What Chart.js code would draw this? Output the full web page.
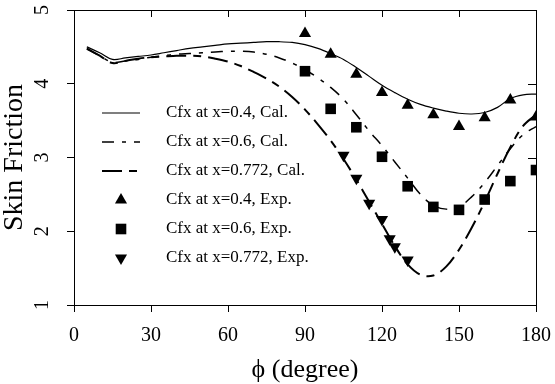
<!DOCTYPE html>
<html lang="en">
<head>
    <meta charset="UTF-8">
    <title>Skin Friction</title>
    <script src="https://cdn.jsdelivr.net/npm/chart.js"></script>
    <style>
        body { margin: 0; background: #fff; }
        #wrap { width: 555px; height: 384px; }
    </style>
</head>
<body>
    <div id="wrap">
        <canvas id="skinChart" width="555" height="384"></canvas>
    </div>
    <script>
        // Calculated curves (phi in degrees)
        const phiCal = [5, 10, 15, 20, 25, 30, 35, 40, 45, 50, 55, 60, 65, 70, 75, 80, 85, 90,
                        95, 100, 105, 110, 115, 120, 125, 130, 135, 140, 145, 150, 155, 160, 165, 170, 175, 180];
        const cal04 = [4.50, 4.42, 4.33, 4.35, 4.37, 4.39, 4.42, 4.45, 4.48, 4.50, 4.52, 4.54, 4.55, 4.56, 4.57, 4.57, 4.56, 4.53,
                       4.48, 4.41, 4.33, 4.22, 4.10, 3.98, 3.88, 3.79, 3.72, 3.67, 3.63, 3.60, 3.59, 3.61, 3.68, 3.80, 3.85, 3.86];
        const cal06 = [4.47, 4.38, 4.29, 4.31, 4.33, 4.36, 4.38, 4.40, 4.41, 4.42, 4.43, 4.44, 4.44, 4.43, 4.40, 4.35, 4.28, 4.19,
                       4.08, 3.95, 3.79, 3.58, 3.36, 3.16, 2.94, 2.72, 2.50, 2.35, 2.30, 2.33, 2.47, 2.66, 2.89, 3.12, 3.31, 3.42];
        const cal0772 = [4.48, 4.38, 4.28, 4.31, 4.34, 4.36, 4.37, 4.38, 4.38, 4.37, 4.34, 4.30, 4.24, 4.16, 4.07, 3.96, 3.82, 3.65,
                         3.45, 3.23, 2.98, 2.70, 2.40, 2.10, 1.80, 1.55, 1.41, 1.40, 1.52, 1.75, 2.05, 2.40, 2.78, 3.14, 3.43, 3.58];

        // Experimental points
        const phiExp = [90, 100, 110, 120, 130, 140, 150, 160, 170, 180];
        const exp04 = [4.68, 4.40, 4.13, 3.88, 3.71, 3.58, 3.42, 3.54, 3.78, 3.55];
        const exp06 = [4.17, 3.66, 3.41, 3.01, 2.61, 2.33, 2.29, 2.43, 2.68, 2.83];
        const phiExp0772 = [105, 110, 115, 120, 123, 125, 130];
        const exp0772 = [3.03, 2.72, 2.38, 2.16, 1.90, 1.79, 1.61];

        const xTicks = [0, 30, 60, 90, 120, 150, 180];
        const yTicks = [1, 2, 3, 4, 5];

        const legendLabels = ['Cfx at x=0.4, Cal.', 'Cfx at x=0.6, Cal.', 'Cfx at x=0.772, Cal.',
                              'Cfx at x=0.4, Exp.', 'Cfx at x=0.6, Exp.', 'Cfx at x=0.772, Exp.'];

        const FONT = "'Liberation Serif', 'Times New Roman', serif";

        function pts(xs, ys) {
            return xs.map((x, i) => ({ x: x, y: ys[i] }));
        }

        function lineSet(label, xs, ys, width, dash) {
            return {
                type: 'line', label: label, data: pts(xs, ys),
                borderColor: '#000', borderWidth: width, borderDash: dash,
                pointRadius: 0, tension: 0.35, fill: false
            };
        }

        function markSet(label, xs, ys, style, rot, r) {
            return {
                type: 'scatter', label: label, data: pts(xs, ys),
                pointStyle: style, rotation: rot, pointRadius: r,
                backgroundColor: '#000', borderColor: '#000', borderWidth: 0
            };
        }

        const datasets = [
            lineSet(legendLabels[0], phiCal, cal04, 1.2, []),
            lineSet(legendLabels[1], phiCal, cal06, 1.5, [12, 8, 4, 8]),
            lineSet(legendLabels[2], phiCal, cal0772, 2, [20, 7, 8, 7]),
            markSet(legendLabels[3], phiExp, exp04, 'triangle', 0, 7),
            markSet(legendLabels[4], phiExp, exp06, 'rect', 0, 7.5),
            markSet(legendLabels[5], phiExp0772, exp0772, 'triangle', 180, 7)
        ];

        function marker(ctx, style, rot, r, x, y) {
            ctx.save();
            ctx.translate(x, y);
            ctx.rotate(rot * Math.PI / 180);
            ctx.beginPath();
            if (style === 'rect') {
                const s = Math.SQRT1_2 * r;
                ctx.rect(-s, -s, 2 * s, 2 * s);
            } else {
                ctx.moveTo(0, -r);
                ctx.lineTo(r * Math.sin(Math.PI / 3), r / 2);
                ctx.lineTo(-r * Math.sin(Math.PI / 3), r / 2);
                ctx.closePath();
            }
            ctx.fillStyle = '#000';
            ctx.fill();
            ctx.restore();
        }

        // frame, inward ticks on top/right, and the in-plot legend
        const framePlugin = {
            id: 'frame',
            afterDraw(chart) {
                const ctx = chart.ctx;
                const a = chart.chartArea;
                const xs = chart.scales.x, ys = chart.scales.y;
                ctx.save();
                ctx.strokeStyle = '#000';
                ctx.lineWidth = 1;
                ctx.strokeRect(a.left + 0.5, a.top + 0.5, a.right - a.left, a.bottom - a.top);
                ctx.beginPath();
                xTicks.forEach(v => {
                    const px = Math.round(xs.getPixelForValue(v)) + 0.5;
                    ctx.moveTo(px, a.top);
                    ctx.lineTo(px, a.top + 7);
                });
                yTicks.forEach(v => {
                    const py = Math.round(ys.getPixelForValue(v)) + 0.5;
                    ctx.moveTo(a.right, py);
                    ctx.lineTo(a.right - 8, py);
                });
                ctx.stroke();

                // legend
                ctx.font = '17px ' + FONT;
                ctx.textBaseline = 'middle';
                ctx.fillStyle = '#000';
                datasets.forEach((ds, i) => {
                    const y = 113 + i * 29;
                    if (ds.type === 'line') {
                        ctx.beginPath();
                        ctx.lineWidth = ds.borderWidth;
                        ctx.setLineDash(ds.borderDash);
                        ctx.moveTo(102, y);
                        ctx.lineTo(140, y);
                        ctx.stroke();
                        ctx.setLineDash([]);
                    } else {
                        marker(ctx, ds.pointStyle, ds.rotation, ds.pointRadius, 121, y);
                    }
                    ctx.fillText(ds.label, 166, y);
                });
                ctx.restore();
            }
        };

        new Chart(document.getElementById('skinChart'), {
            data: { datasets: datasets },
            options: {
                responsive: false,
                animation: false,
                layout: { padding: { top: 10, right: 19, left: 0, bottom: 0 } },
                plugins: { legend: { display: false }, tooltip: { enabled: false } },
                scales: {
                    x: {
                        type: 'linear', min: 0, max: 180,
                        afterBuildTicks: s => { s.ticks = xTicks.map(v => ({ value: v })); },
                        afterFit: s => { s.height = 79; s.paddingLeft = 0; s.paddingRight = 0; },
                        grid: { display: true, drawOnChartArea: false, color: '#000', tickLength: 7, tickWidth: 1 },
                        border: { display: true, color: '#000', width: 1 },
                        ticks: { color: '#000', padding: 12, maxRotation: 0, font: { family: FONT, size: 20 } },
                        title: {
                            display: true, text: 'ϕ (degree)', color: '#000',
                            font: { family: FONT, size: 26, lineHeight: 1 },
                            padding: { top: 0, bottom: 1 }
                        }
                    },
                    y: {
                        type: 'linear', min: 1, max: 5,
                        afterBuildTicks: s => { s.ticks = yTicks.map(v => ({ value: v })); },
                        afterFit: s => { s.width = 74; s.paddingTop = 0; s.paddingBottom = 0; },
                        grid: { display: true, drawOnChartArea: false, color: '#000', tickLength: 7, tickWidth: 1 },
                        border: { display: true, color: '#000', width: 1 },
                        ticks: {
                            color: '#000', padding: 19, minRotation: 90, maxRotation: 90,
                            crossAlign: 'center', font: { family: FONT, size: 20 }
                        },
                        title: {
                            display: true, text: 'Skin Friction', color: '#000',
                            font: { family: FONT, size: 28, lineHeight: 1 },
                            padding: { top: 1, bottom: 0 }
                        }
                    }
                }
            },
            plugins: [framePlugin]
        });
    </script>
</body>
</html>
